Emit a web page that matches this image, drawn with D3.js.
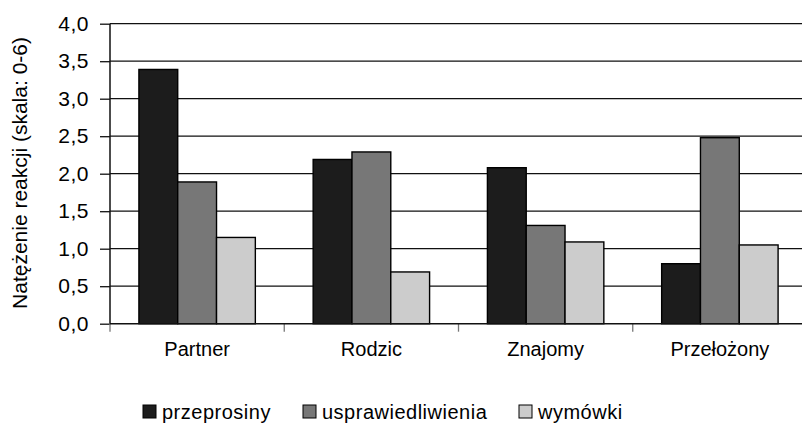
<!DOCTYPE html>
<html><head><meta charset="utf-8">
<script src="https://cdn.jsdelivr.net/npm/d3@7"></script>
<style>body{margin:0;background:#fff}svg{display:block}text{font-family:"Liberation Sans",Arial,sans-serif;fill:#000}</style>
</head><body><svg id="c" width="802" height="426"></svg>
<script>
const categories = ["Partner", "Rodzic", "Znajomy", "Przełożony"];
const seriesNames = ["przeprosiny", "usprawiedliwienia", "wymówki"];
const przeprosiny = [3.39, 2.19, 2.08, 0.80];
const usprawiedliwienia = [1.89, 2.29, 1.31, 2.48];
const wymowki = [1.15, 0.69, 1.09, 1.05];
const yTicks = [0, 0.5, 1, 1.5, 2, 2.5, 3, 3.5, 4];
const yLabel = "Natężenie reakcji (skala: 0-6)";
const colors = ["#1c1c1c", "#777777", "#cccccc"];
const series = [przeprosiny, usprawiedliwienia, wymowki];

const svg = d3.select("#c");
const x0 = 110, x1 = 807, yTop = 23.7, yBot = 323.7;
const x = d3.scaleBand().domain(categories).range([x0, x1]).paddingInner(0).paddingOuter(0);
const xs = d3.scaleBand().domain(seriesNames).range([0, x.bandwidth()]).paddingInner(0).paddingOuter(0.745);
const y = d3.scaleLinear().domain([0, 4]).range([yBot, yTop]);

// gridlines
svg.append("g").selectAll("line").data(yTicks.filter(d => d > 0)).join("line")
  .attr("x1", x0).attr("x2", 802).attr("y1", d => y(d)).attr("y2", d => y(d))
  .attr("stroke", "#111").attr("stroke-width", 1.3);

// y axis
const ya = svg.append("g").attr("transform", `translate(${x0},0)`)
  .call(d3.axisLeft(y).tickValues(yTicks).tickSize(10).tickPadding(11)
    .tickFormat(d => d3.format(".1f")(d).replace(".", ",")));
ya.select(".domain").remove();
ya.selectAll(".tick line").attr("stroke", "#111").attr("stroke-width", 1.3);
ya.selectAll(".tick text").style("font-size", "21px").style("letter-spacing", "0.5px").attr("font-family", null);
svg.append("line").attr("x1", x0).attr("x2", x0).attr("y1", yTop).attr("y2", yBot)
  .attr("stroke", "#111").attr("stroke-width", 1.5);

// bars
const groups = svg.append("g").selectAll("g").data(categories).join("g")
  .attr("transform", c => `translate(${x(c)},0)`);
groups.selectAll("rect").data((c, i) => series.map((s, k) => ({k, v: s[i]}))).join("rect")
  .attr("x", d => xs(seriesNames[d.k])).attr("width", xs.bandwidth())
  .attr("y", d => y(d.v)).attr("height", d => yBot - y(d.v))
  .attr("fill", d => colors[d.k]).attr("stroke", "#000").attr("stroke-width", 1.4);

// x axis
const xa = svg.append("g").attr("transform", `translate(0,${yBot})`)
  .call(d3.axisBottom(x).tickSize(0).tickPadding(18));
xa.select(".domain").remove();
xa.selectAll(".tick text").style("font-size", "20px").attr("font-family", null);
svg.append("g").selectAll("line").data(categories).join("line")
  .attr("x1", c => x(c)).attr("x2", c => x(c)).attr("y1", yBot).attr("y2", yBot + 8)
  .attr("stroke", "#777").attr("stroke-width", 1.3);
svg.append("line").attr("x1", x0).attr("x2", 802).attr("y1", yBot).attr("y2", yBot)
  .attr("stroke", "#111").attr("stroke-width", 1.5);

// y label
svg.append("text").attr("transform", "translate(27,173) rotate(-90)")
  .attr("text-anchor", "middle").style("font-size", "21px").text(yLabel);

// legend
const legX = [143, 303, 519];
const leg = svg.append("g").selectAll("g").data(seriesNames).join("g")
  .attr("transform", (d, i) => `translate(${legX[i]},405)`);
leg.append("rect").attr("width", 13).attr("height", 13)
  .attr("fill", (d, i) => colors[i]).attr("stroke", "#000").attr("stroke-width", 1);
leg.append("text").attr("x", 19).attr("y", 14).style("font-size", "20px").style("letter-spacing", "0.5px").text(d => d);
</script></body></html>
